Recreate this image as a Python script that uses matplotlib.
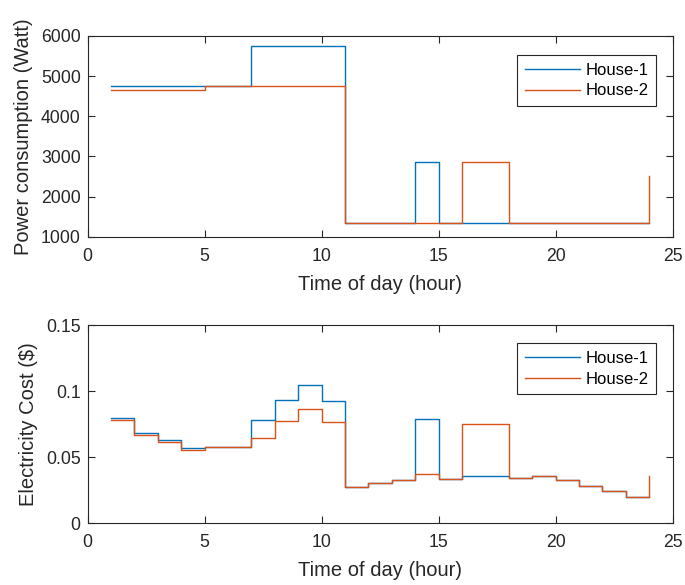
import matplotlib
matplotlib.use("Agg")
import matplotlib.pyplot as plt
import numpy as np

plt.rcParams['font.family'] = ['Liberation Sans', 'DejaVu Sans']

hours = list(range(1, 25))
power_house1 = [4750, 4750, 4750, 4750, 4750, 4750, 5750, 5750, 5750, 5750,
                1350, 1350, 1350, 2850, 1350, 1350, 1350, 1350, 1350, 1350,
                1350, 1350, 1350, 1350]
power_house2 = [4650, 4650, 4650, 4650, 4750, 4750, 4750, 4750, 4750, 4750,
                1350, 1350, 1350, 1350, 1350, 2850, 2850, 1350, 1350, 1350,
                1350, 1350, 1350, 2500]
cost_house1 = [0.0800, 0.0682, 0.0629, 0.0569, 0.0576, 0.0576, 0.0783, 0.0936,
               0.1047, 0.0926, 0.0274, 0.0304, 0.0330, 0.0788, 0.0337, 0.0360,
               0.0360, 0.0345, 0.0355, 0.0327, 0.0279, 0.0246, 0.0196, 0.0196]
cost_house2 = [0.0785, 0.0669, 0.0616, 0.0556, 0.0576, 0.0576, 0.0644, 0.0775,
               0.0863, 0.0763, 0.0274, 0.0304, 0.0330, 0.0370, 0.0337, 0.0752,
               0.0752, 0.0345, 0.0355, 0.0327, 0.0279, 0.0246, 0.0196, 0.0360]
series_labels = ['House-1', 'House-2']
colors = ['#0072BD', '#D95319']

fig = plt.figure(figsize=(6.85, 5.85), dpi=100)
ax1 = fig.add_axes([0.128, 0.5954, 0.854, 0.3431])
ax2 = fig.add_axes([0.128, 0.1054, 0.854, 0.339])

def style(ax):
    for s in ax.spines.values():
        s.set_color('#262626')
        s.set_linewidth(0.8)
    ax.tick_params(direction='in', length=5, width=0.8, colors='#262626',
                   top=True, right=True, labelsize=12.7)
    ax.tick_params(axis='x', pad=8)
    ax.tick_params(axis='y', pad=5)

for ax, d1, d2, ylabel, ylim, yticks, ytl, legtop in [
    (ax1, power_house1, power_house2, 'Power consumption (Watt)', (1000, 6000),
     [1000, 2000, 3000, 4000, 5000, 6000], ['1000', '2000', '3000', '4000', '5000', '6000'], 0.905),
    (ax2, cost_house1, cost_house2, 'Electricity Cost ($)', (0, 0.15),
     [0, 0.05, 0.1, 0.15], ['0', '0.05', '0.1', '0.15'], 0.9077)]:
    ax.step(hours, d1, where='post', color=colors[0], lw=1.0, label=series_labels[0])
    ax.step(hours, d2, where='post', color=colors[1], lw=1.0, label=series_labels[1])
    ax.set_xlim(0, 25)
    ax.set_ylim(*ylim)
    ax.set_xticks([0, 5, 10, 15, 20, 25])
    ax.set_yticks(yticks)
    ax.set_yticklabels(ytl)
    style(ax)
    ax.set_xlabel('Time of day (hour)', fontsize=14.5, color='#262626', labelpad=7)
    ax.set_ylabel(ylabel, fontsize=14.5, color='#262626', labelpad=6)
    leg = ax.legend(loc='upper right', bbox_to_anchor=(0.9715, legtop), fontsize=12,
                    frameon=True, fancybox=False, framealpha=1, edgecolor='#262626',
                    handlelength=3.3, handletextpad=0.35, borderpad=0.45, labelspacing=0.35,
                    borderaxespad=0)
    leg.get_frame().set_linewidth(0.8)

fig.savefig('out.png', dpi=100)
